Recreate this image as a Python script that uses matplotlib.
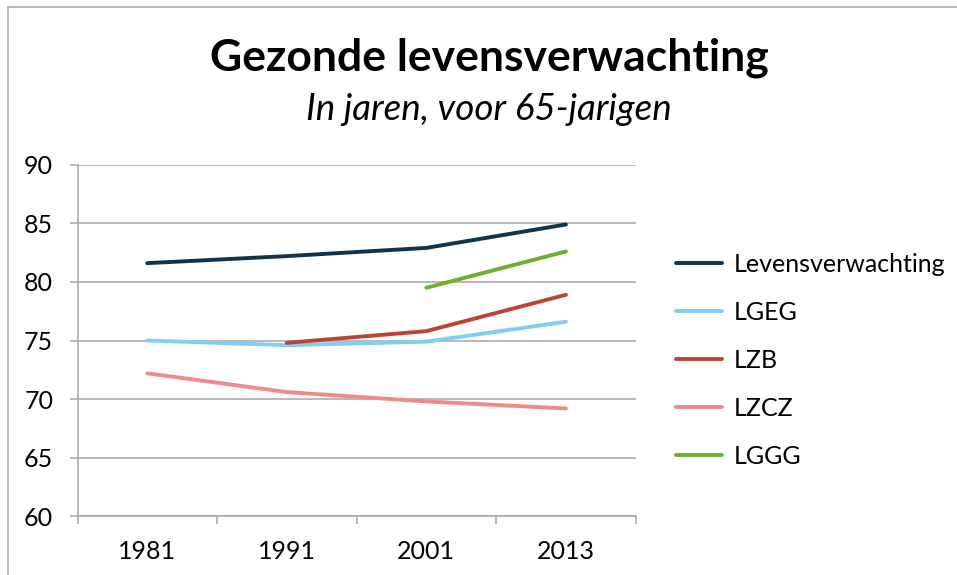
import matplotlib
matplotlib.use("Agg")
import matplotlib.pyplot as plt
from matplotlib.lines import Line2D
import numpy as np

plt.rcParams["font.family"] = ["Lato", "DejaVu Sans"]

# data
years = ["1981", "1991", "2001", "2013"]
levensverwachting = [81.6, 82.2, 82.9, 84.9]
lgeg = [75.0, 74.6, 74.9, 76.6]
lzb = [np.nan, 74.8, 75.8, 78.9]
lzcz = [72.2, 70.6, 69.8, 69.2]
lggg = [np.nan, np.nan, 79.5, 82.6]

series = [
    ("Levensverwachting", levensverwachting, "#0f3450"),
    ("LGEG", lgeg, "#80cff2"),
    ("LZB", lzb, "#be4337"),
    ("LZCZ", lzcz, "#ee8a8c"),
    ("LGGG", lggg, "#6bb12a"),
]

W, H = 957, 575
fig = plt.figure(figsize=(W / 100, H / 100), dpi=100)
ax = fig.add_axes([77.5 / W, 1 - 516.3 / H, (635.7 - 77.5) / W, (516.3 - 164.7) / H])

grey = "#a6a6a6"
x = np.arange(len(years))
for name, vals, color in series:
    ax.plot(x, vals, color=color, lw=2.8, solid_capstyle="round", label=name)

ax.set_xlim(-0.5, len(years) - 0.5)
ax.set_ylim(60, 90)
ax.set_yticks(range(60, 91, 5))
ax.yaxis.grid(True, color=grey, lw=1.1)
ax.set_axisbelow(True)

for s in ["top", "right"]:
    ax.spines[s].set_visible(False)
for s in ["left", "bottom"]:
    ax.spines[s].set_color(grey)
    ax.spines[s].set_linewidth(1.1)

ax.set_xticks(x)
ax.set_xticklabels(years)
ax.set_xticks(np.arange(-0.5, len(years)), minor=True)
ax.tick_params(axis="x", which="major", length=0, pad=17, labelsize=18)
ax.tick_params(axis="x", which="minor", length=6, width=1.1, color=grey, direction="out")
ax.tick_params(axis="y", length=6, width=1.1, color=grey, pad=11.5, labelsize=18)

fig.text(489 / W, 1 - 58 / H, "Gezonde levensverwachting", ha="center", va="center",
         fontsize=32, fontweight="bold")
fig.text(489 / W, 1 - 109 / H, "In jaren, voor 65-jarigen", ha="center", va="center",
         fontsize=26.5, style="italic")

# cropped chart-area border (top and left only visible)
fig.add_artist(Line2D([8 / W, 1], [1 - 7 / H, 1 - 7 / H], color=grey, lw=1.1))
fig.add_artist(Line2D([8 / W, 8 / W], [0, 1 - 7 / H], color=grey, lw=1.1))

ax.legend(loc="center left", bbox_to_anchor=(676 / W, 1 - 360 / H),
          bbox_transform=fig.transFigure, frameon=False, fontsize=18,
          handlelength=1.85, handletextpad=0.44, labelspacing=1.0,
          borderaxespad=0, borderpad=0)

fig.savefig("out.png", dpi=100)
